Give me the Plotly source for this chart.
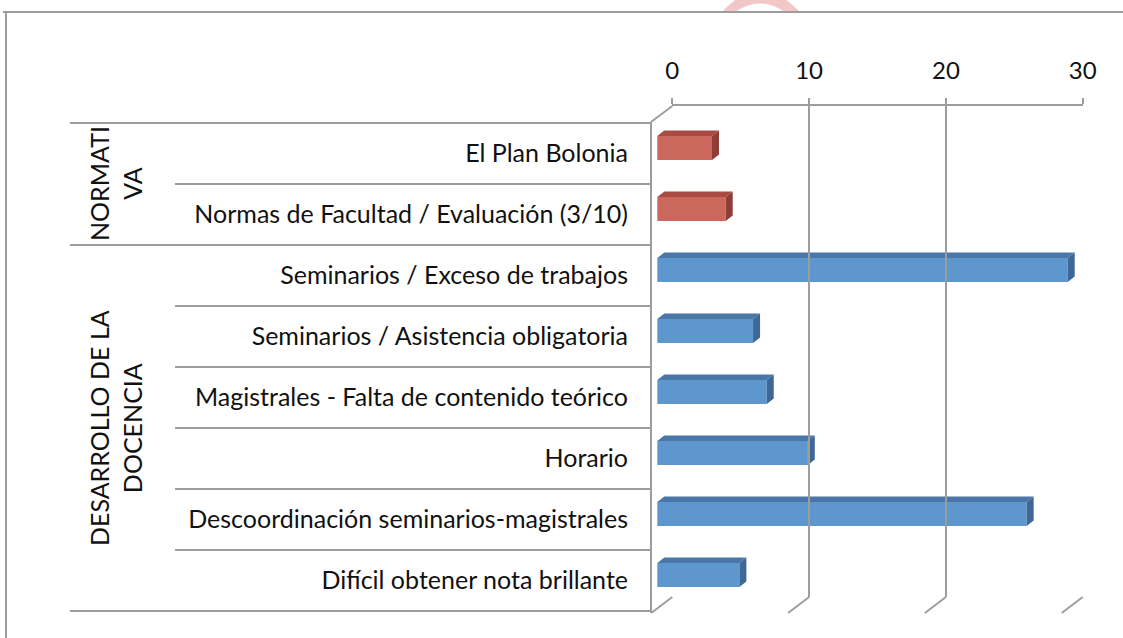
import plotly.graph_objects as go

# ---------------- data ----------------
categories = [
    "El Plan Bolonia",
    "Normas de Facultad / Evaluación (3/10)",
    "Seminarios / Exceso de trabajos",
    "Seminarios / Asistencia obligatoria",
    "Magistrales - Falta de contenido teórico",
    "Horario",
    "Descoordinación seminarios-magistrales",
    "Difícil obtener nota brillante",
]
values = [4, 5, 30, 7, 8, 11, 27, 6]
groups = ["NORMATIVA"] * 2 + ["DESARROLLO DE LA DOCENCIA"] * 6
group_labels = {"NORMATIVA": "NORMATI<br>VA",
                "DESARROLLO DE LA DOCENCIA": "DESARROLLO DE LA<br>DOCENCIA"}
tick_values = [0, 10, 20, 30]

# ---------------- styling ----------------
W, H = 1123, 638
FONT = "Lato"
FS = 25
GRID = "#9d9d9d"
front_col = {"NORMATIVA": "#CB675C", "DESARROLLO DE LA DOCENCIA": "#5E97CD"}
top_col = {"NORMATIVA": "#A84B42", "DESARROLLO DE LA DOCENCIA": "#4A77A8"}
side_col = {"NORMATIVA": "#8C3E37", "DESARROLLO DE LA DOCENCIA": "#3F6896"}

PXU = 13.68          # pixels per unit on value axis
X0_FRONT = 657.3     # pixel of value 0 in bar plane
X0_BACK = 672.3      # pixel of value 0 on back wall
ROW_TOP, ROW_H = 123.0, 61.0
N = len(categories)
BAR_H = 24.0
DX_PX, DY_PX = 7.0, 5.5

def px(p):
    return p / W

def py(p):
    return 1 - p / H

hw = BAR_H / ROW_H / 2
dx = DX_PX / PXU
dy = DY_PX / ROW_H
idx = list(range(N))

fig = go.Figure()

# front faces
fig.add_trace(go.Bar(
    x=values, y=idx, orientation="h", base=0, width=BAR_H / ROW_H,
    marker=dict(color=[front_col[g] for g in groups], line=dict(width=0)),
    hoverinfo="skip", xaxis="x", yaxis="y"))

# top and side faces
for g in front_col:
    tx, ty, sx, sy = [], [], [], []
    for i, (v, gg) in enumerate(zip(values, groups)):
        if gg != g:
            continue
        tx += [0, v, v + dx, dx, 0, None]
        ty += [i - hw, i - hw, i - hw - dy, i - hw - dy, i - hw, None]
        sx += [v, v + dx, v + dx, v, v, None]
        sy += [i - hw, i - hw - dy, i + hw - dy, i + hw, i - hw, None]
    fig.add_trace(go.Scatter(x=tx, y=ty, fill="toself", fillcolor=top_col[g],
                             mode="none", hoverinfo="skip", xaxis="x", yaxis="y"))
    fig.add_trace(go.Scatter(x=sx, y=sy, fill="toself", fillcolor=side_col[g],
                             mode="none", hoverinfo="skip", xaxis="x", yaxis="y"))

# invisible anchors for label axis and back wall axis
fig.add_trace(go.Scatter(x=[0] * N, y=categories, mode="markers",
                         marker=dict(opacity=0), hoverinfo="skip",
                         xaxis="x", yaxis="y3"))
fig.add_trace(go.Scatter(x=[tick_values[0], tick_values[-1]], y=[0, 1], mode="markers",
                         marker=dict(opacity=0), hoverinfo="skip",
                         xaxis="x2", yaxis="y2"))

shapes = []
line = dict(color=GRID, width=2)
# outer frame
shapes.append(dict(type="line", xref="paper", yref="paper",
                   x0=px(3), x1=px(1123), y0=py(12), y1=py(12), line=line))
shapes.append(dict(type="line", xref="paper", yref="paper",
                   x0=px(6), x1=px(6), y0=py(12), y1=py(638), line=line))
# category separators
bounds_full = {0}
for i in range(1, N):
    if groups[i] != groups[i - 1]:
        bounds_full.add(i)
bounds_full.add(N)
for k in range(N + 1):
    yk = ROW_TOP + ROW_H * k
    x_start = 70 if k in bounds_full else 175
    shapes.append(dict(type="line", xref="paper", yref="paper",
                       x0=px(x_start), x1=px(651), y0=py(yk), y1=py(yk), line=line))
# left wall
shapes.append(dict(type="line", xref="paper", yref="paper",
                   x0=px(651), x1=px(651), y0=py(122), y1=py(613), line=line))
shapes.append(dict(type="line", xref="paper", yref="paper",
                   x0=px(651), x1=px(X0_BACK), y0=py(122), y1=py(106), line=line))
# floor diagonals
for v in tick_values:
    xb = X0_BACK + PXU * v
    shapes.append(dict(type="line", xref="paper", yref="paper",
                       x0=px(xb), x1=px(xb - 21), y0=py(597), y1=py(613), line=line))

# watermark fragment (faint pink) at top
wm = "rgba(214,80,80,0.32)"
shapes.append(dict(type="path", xref="paper", yref="paper", layer="below",
                   path=f"M {px(722)},{py(12)} Q {px(760)},{py(-30)} {px(800)},{py(12)} L {px(785)},{py(12)} Q {px(760)},{py(-5)} {px(735)},{py(12)} Z",
                   fillcolor=wm, line=dict(width=0)))

annotations = []
for g, lab in group_labels.items():
    rows = [i for i, gg in enumerate(groups) if gg == g]
    yc = ROW_TOP + ROW_H * (rows[0] + rows[-1] + 1) / 2
    annotations.append(dict(text=lab, xref="paper", yref="paper",
                            x=px(116), y=py(yc), textangle=-90, showarrow=False,
                            font=dict(family=FONT, size=FS, color="#111"),
                            xanchor="center", yanchor="middle", align="center"))

fig.update_layout(
    width=W, height=H,
    margin=dict(l=0, r=0, t=0, b=0, autoexpand=False),
    paper_bgcolor="white", plot_bgcolor="rgba(0,0,0,0)",
    showlegend=False,
    shapes=shapes, annotations=annotations,
    xaxis=dict(range=[-1.5, 31.5],
               domain=[px(X0_FRONT - 1.5 * PXU), px(X0_FRONT + 31.5 * PXU)],
               visible=False, anchor="y", automargin=False),
    yaxis=dict(range=[N - 0.5, -0.5],
               domain=[py(ROW_TOP - 5.5 + ROW_H * N), py(ROW_TOP - 5.5)],
               visible=False, anchor="x", automargin=False),
    xaxis2=dict(range=[tick_values[0], tick_values[-1]],
                domain=[px(X0_BACK), px(X0_BACK + PXU * tick_values[-1])],
                anchor="y2", side="top", tickvals=tick_values, automargin=False,
                showgrid=True, gridcolor=GRID, gridwidth=2, zeroline=False,
                showline=True, linecolor=GRID, linewidth=2,
                ticks="outside", ticklen=6, tickwidth=2, tickcolor=GRID,
                ticklabelstandoff=9,
                tickfont=dict(family=FONT, size=24, color="#111")),
    yaxis2=dict(range=[0, 1], domain=[py(597), py(106)], visible=False,
                anchor="x2", automargin=False),
    yaxis3=dict(type="category", categoryarray=categories, categoryorder="array",
                range=[N - 0.5, -0.5], automargin=False,
                domain=[py(ROW_TOP + ROW_H * N), py(ROW_TOP)],
                anchor="free", position=px(628), side="left",
                showgrid=False, zeroline=False, showline=False, ticks="",
                tickfont=dict(family=FONT, size=FS, color="#111")),
)

fig.write_html("out.html", config={"displayModeBar": False},
               post_script="document.body.style.margin='0';document.body.style.overflow='hidden';")
